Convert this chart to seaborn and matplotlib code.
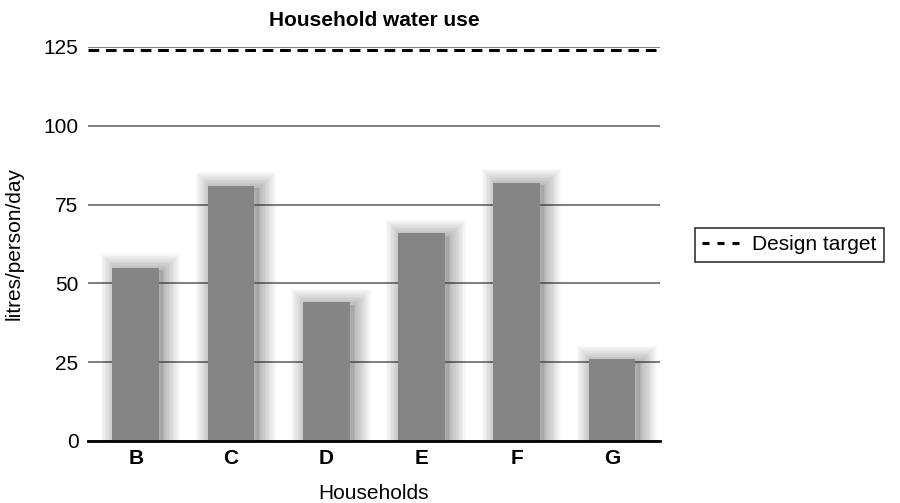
import numpy as np
import pandas as pd
import matplotlib
matplotlib.use("Agg")
import matplotlib.pyplot as plt
import matplotlib.patheffects as pe
from matplotlib.lines import Line2D
import seaborn as sns

# dados
households = ["B", "C", "D", "E", "F", "G"]
litres_per_day = [55, 81, 44, 66, 82, 26]
design_target = 124
y_ticks = [0, 25, 50, 75, 100, 125]

sns.set_style("white")
plt.rcParams["font.family"] = ["Liberation Sans", "DejaVu Sans"]
plt.rcParams["text.color"] = "black"
plt.rcParams["axes.labelcolor"] = "black"
plt.rcParams["xtick.color"] = "black"
plt.rcParams["ytick.color"] = "black"

df = pd.DataFrame({"Household": households, "Litres": litres_per_day})

fig = plt.figure(figsize=(9, 5.03), dpi=100)
ax = fig.add_axes([0.098, 0.1233, 0.635, 0.7833])

sns.barplot(data=df, x="Household", y="Litres", color="#858585",
            saturation=1, width=0.49, ax=ax, zorder=3)

# sombra borrada atrás das barras (várias camadas transparentes)
shadow = [pe.Stroke(linewidth=w, foreground="#000000", alpha=0.022, offset=(3, -2))
          for w in range(24, 0, -2)]
for bar in ax.patches:
    bar.set_edgecolor("#858585")
    bar.set_linewidth(0)
    bar.set_path_effects(shadow + [pe.Normal()])

ax.axhline(design_target, color="black", linestyle=(0, (3.5, 2.2)),
           linewidth=2.2, zorder=4)

ax.set_ylim(0, 125)
ax.set_xlim(-0.5, 5.5)
ax.set_yticks(y_ticks)
ax.yaxis.grid(True, color="#7f7f7f", linewidth=1.4)
ax.set_axisbelow(True)
for s in ["top", "right", "left"]:
    ax.spines[s].set_visible(False)
ax.spines["bottom"].set_color("black")
ax.spines["bottom"].set_linewidth(2)
ax.spines["bottom"].set_zorder(5)

ax.tick_params(axis="y", length=0, labelsize=15, pad=7)
ax.tick_params(axis="x", length=0, labelsize=15, pad=6)
for lbl in ax.get_xticklabels():
    lbl.set_fontweight("bold")

ax.set_xlabel("Households", fontsize=15, labelpad=11)
ax.set_ylabel("litres/person/day", fontsize=15, labelpad=14)
ax.set_title("Household water use", fontsize=15, fontweight="bold", pad=15)

# legenda com traço mais espaçado, como no original
handle = Line2D([], [], color="black", linewidth=2.2, linestyle=(0, (2.3, 2.6)))
leg = fig.legend([handle], ["Design target"], loc="center left",
                 bbox_to_anchor=(0.772, 0.513), fontsize=15, frameon=True,
                 fancybox=False, handlelength=1.8, borderpad=0.35,
                 borderaxespad=0, handletextpad=0.6)
leg.get_frame().set_edgecolor("black")
leg.get_frame().set_linewidth(1.2)

plt.savefig("out.png", dpi=100)
